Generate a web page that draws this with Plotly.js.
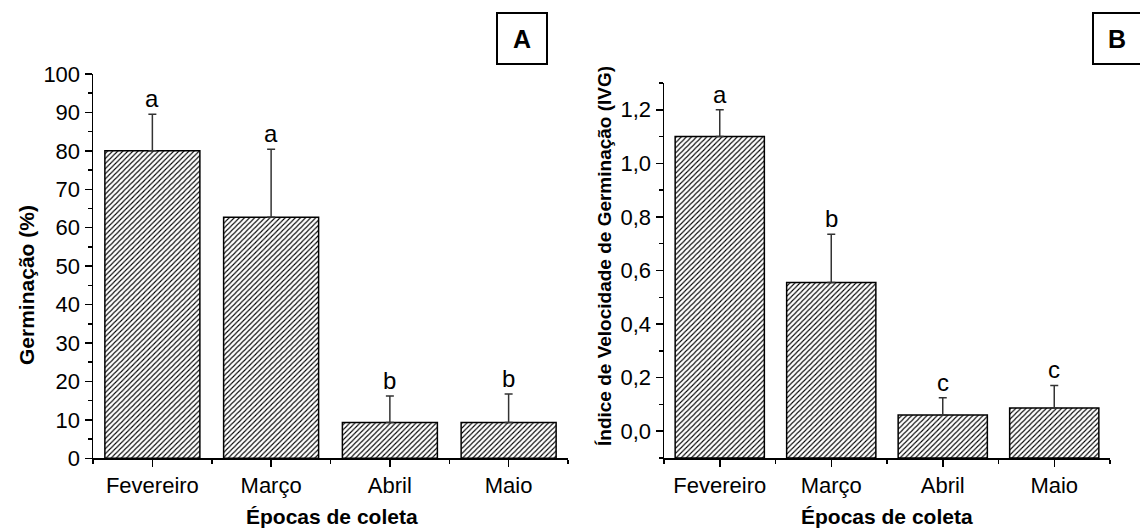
<!DOCTYPE html>
<html>
<head>
<meta charset="utf-8">
<script src="https://cdn.plot.ly/plotly-3.0.1.min.js"></script>
<style>html,body{margin:0;padding:0;background:#fff;}#chart{width:1140px;height:529px;}</style>
</head>
<body>
<div id="chart"></div>
<script>
// ---- data ----
const categories = ["Fevereiro", "Março", "Abril", "Maio"];
const germinacao = [80.0, 62.7, 9.3, 9.3];
const germinacaoErr = [9.5, 17.7, 6.9, 7.4];
const germinacaoLetters = ["a", "a", "b", "b"];
const ivg = [1.10, 0.555, 0.061, 0.087];
const ivgErr = [0.10, 0.18, 0.064, 0.084];
const ivgLetters = ["a", "b", "c", "c"];
const ivgBase = -0.1;
const yTicksB = [0, 0.2, 0.4, 0.6, 0.8, 1.0, 1.2];
const yTickTextB = ["0,0", "0,2", "0,4", "0,6", "0,8", "1,0", "1,2"];

const W = 1140, H = 529;
const px = v => v / W;
const py = v => 1 - v / H;
const FONT = "Arial, Liberation Sans, sans-serif";
const xIdx = categories.map((_, i) => i);

const barStyle = {
  color: "white",
  line: { color: "black", width: 1.5 },
  pattern: { shape: "/", size: 3.6, solidity: 0.3, fgcolor: "black", bgcolor: "white" }
};

const traceA = {
  type: "bar", x: xIdx, y: germinacao, width: 0.8,
  xaxis: "x", yaxis: "y",
  marker: barStyle,
  error_y: { type: "data", symmetric: false, array: germinacaoErr, arrayminus: germinacao.map(() => 0),
             color: "#333", thickness: 1.5, width: 4 },
  hoverinfo: "skip"
};
const traceB = {
  type: "bar", x: xIdx, y: ivg.map(v => v - ivgBase), base: ivgBase, width: 0.8,
  xaxis: "x2", yaxis: "y2",
  marker: barStyle,
  error_y: { type: "data", symmetric: false, array: ivgErr, arrayminus: ivg.map(() => 0),
             color: "#333", thickness: 1.5, width: 4 },
  hoverinfo: "skip"
};

const tickFont = { family: FONT, size: 22, color: "black" };
const xCommon = {
  range: [-0.5, 3.5], tickmode: "array", tickvals: xIdx, ticktext: categories,
  ticks: "outside", ticklen: 7, tickwidth: 1.5, tickcolor: "black",
  showline: true, linecolor: "black", linewidth: 1.5, showgrid: false, zeroline: false,
  tickfont: tickFont, fixedrange: true,
  minor: { tickmode: "linear", tick0: 0.5, dtick: 1, ticks: "outside", ticklen: 4, tickwidth: 1.5, tickcolor: "black", showgrid: false }
};
const yCommon = {
  ticks: "outside", ticklen: 7, tickwidth: 1.5, tickcolor: "black",
  showline: true, linecolor: "black", linewidth: 1.5, showgrid: false, zeroline: false,
  tickfont: tickFont, fixedrange: true
};

const annotations = [];
const letterFont = { family: FONT, size: 24, color: "black" };
germinacaoLetters.forEach((t, i) => annotations.push({
  text: t, x: i, y: germinacao[i] + germinacaoErr[i], xref: "x", yref: "y",
  xanchor: "center", yanchor: "bottom", showarrow: false, yshift: 0, font: letterFont
}));
ivgLetters.forEach((t, i) => annotations.push({
  text: t, x: i, y: ivg[i] + ivgErr[i], xref: "x2", yref: "y2",
  xanchor: "center", yanchor: "bottom", showarrow: false, yshift: 0, font: letterFont
}));
// axis titles
const titleFont = s => ({ family: FONT, size: s, color: "black" });
const paperText = (text, x, y, size, angle) => ({
  text: text, xref: "paper", yref: "paper", x: px(x), y: py(y), xanchor: "center", yanchor: "middle",
  textangle: angle || 0, showarrow: false, font: titleFont(size)
});
annotations.push(paperText("<b>Germinação (%)</b>", 26, 285, 21, -90));
annotations.push(paperText("<b>Épocas de coleta</b>", 332, 516, 21));
annotations.push(paperText("<b>Índice de Velocidade de Germinação (IVG)</b>", 605, 256, 19, -90));
annotations.push(paperText("<b>Épocas de coleta</b>", 887, 516, 21));
// panel labels
annotations.push(paperText("<b>A</b>", 522, 38.5, 25));
annotations.push(paperText("<b>B</b>", 1117, 38.5, 25));

const layout = {
  width: W, height: H, margin: { l: 0, r: 0, t: 0, b: 0 },
  paper_bgcolor: "white", plot_bgcolor: "white", showlegend: false,
  separators: ", ",
  xaxis: Object.assign({}, xCommon, { domain: [px(93), px(568)], anchor: "y" }),
  yaxis: Object.assign({}, yCommon, { domain: [py(458.3), py(74)], range: [0, 100], dtick: 10, tick0: 0, anchor: "x",
    minor: { tickmode: "linear", tick0: 0, dtick: 5, ticks: "outside", ticklen: 4, tickwidth: 1.5, tickcolor: "black", showgrid: false } }),
  xaxis2: Object.assign({}, xCommon, { domain: [px(664), px(1110)], anchor: "y2" }),
  yaxis2: Object.assign({}, yCommon, { domain: [py(458), py(83)], range: [-0.1, 1.3], tickmode: "array",
    tickvals: yTicksB, ticktext: yTickTextB, anchor: "x2",
    minor: { tickmode: "linear", tick0: -0.1, dtick: 0.1, ticks: "outside", ticklen: 4, tickwidth: 1.5, tickcolor: "black", showgrid: false } }),
  annotations: annotations,
  shapes: [
    { type: "rect", xref: "paper", yref: "paper", x0: px(497), x1: px(547), y0: py(64), y1: py(13), line: { color: "black", width: 2 } },
    { type: "rect", xref: "paper", yref: "paper", x0: px(1093), x1: px(1145), y0: py(64), y1: py(13), line: { color: "black", width: 2 } }
  ]
};

Plotly.newPlot("chart", [traceA, traceB], layout, { staticPlot: true, displayModeBar: false });
</script>
</body>
</html>
